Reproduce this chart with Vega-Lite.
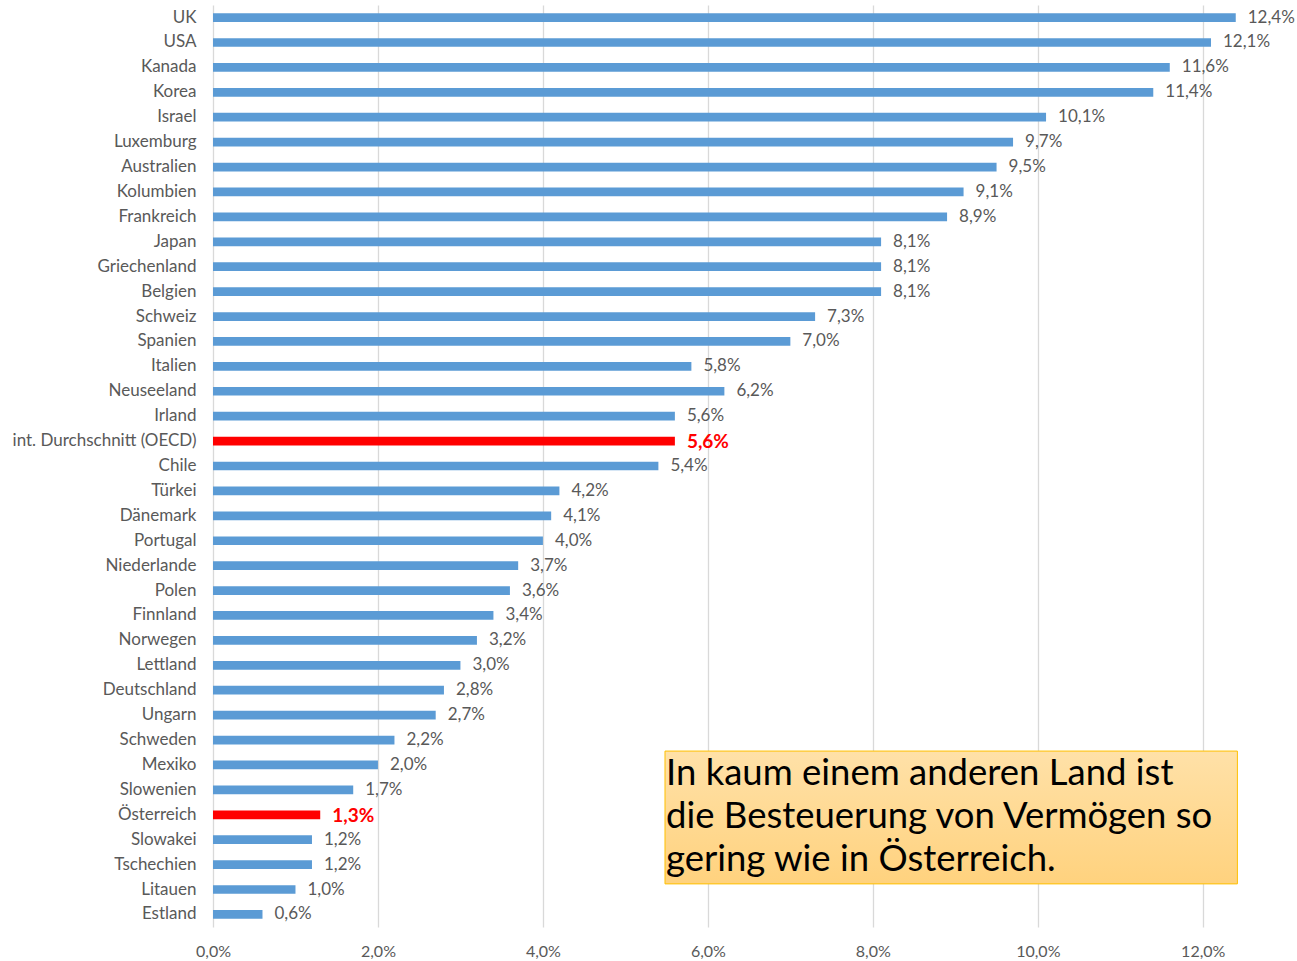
{
  "$schema": "https://vega.github.io/schema/vega-lite/v6.json",
  "autosize": "none",
  "width": 1031,
  "height": 922,
  "padding": {"left": 213, "top": 5, "right": 53, "bottom": 34},
  "background": "white",
  "config": {
    "view": {"stroke": null},
    "font": "Lato",
    "locale": {"number": {"decimal": ",", "thousands": ".", "grouping": [3], "currency": ["", " €"]}}
  },
  "resolve": {"scale": {"y": "independent"}},
  "layer": [
    {
      "data": {"name": "laender", "values": [
        {"land": "UK", "wert": 0.124},
        {"land": "USA", "wert": 0.121},
        {"land": "Kanada", "wert": 0.116},
        {"land": "Korea", "wert": 0.114},
        {"land": "Israel", "wert": 0.101},
        {"land": "Luxemburg", "wert": 0.097},
        {"land": "Australien", "wert": 0.095},
        {"land": "Kolumbien", "wert": 0.091},
        {"land": "Frankreich", "wert": 0.089},
        {"land": "Japan", "wert": 0.081},
        {"land": "Griechenland", "wert": 0.081},
        {"land": "Belgien", "wert": 0.081},
        {"land": "Schweiz", "wert": 0.073},
        {"land": "Spanien", "wert": 0.070},
        {"land": "Italien", "wert": 0.058},
        {"land": "Neuseeland", "wert": 0.062},
        {"land": "Irland", "wert": 0.056},
        {"land": "int. Durchschnitt (OECD)", "wert": 0.056},
        {"land": "Chile", "wert": 0.054},
        {"land": "Türkei", "wert": 0.042},
        {"land": "Dänemark", "wert": 0.041},
        {"land": "Portugal", "wert": 0.040},
        {"land": "Niederlande", "wert": 0.037},
        {"land": "Polen", "wert": 0.036},
        {"land": "Finnland", "wert": 0.034},
        {"land": "Norwegen", "wert": 0.032},
        {"land": "Lettland", "wert": 0.030},
        {"land": "Deutschland", "wert": 0.028},
        {"land": "Ungarn", "wert": 0.027},
        {"land": "Schweden", "wert": 0.022},
        {"land": "Mexiko", "wert": 0.020},
        {"land": "Slowenien", "wert": 0.017},
        {"land": "Österreich", "wert": 0.013},
        {"land": "Slowakei", "wert": 0.012},
        {"land": "Tschechien", "wert": 0.012},
        {"land": "Litauen", "wert": 0.010},
        {"land": "Estland", "wert": 0.006}
      ]},
      "encoding": {
        "y": {
          "field": "land", "type": "nominal", "sort": null,
          "scale": {"paddingInner": 0.65, "paddingOuter": 0.33},
          "axis": {"title": null, "domain": false, "ticks": false, "labelPadding": 17, "labelFontSize": 17, "labelColor": "#595959", "labelFont": "Lato", "labelLimit": 0, "grid": false}
        },
        "x": {
          "field": "wert", "type": "quantitative",
          "scale": {"domain": [0, 0.125], "nice": false},
          "axis": {"title": null, "format": ".1%", "values": [0, 0.02, 0.04, 0.06, 0.08, 0.1, 0.12], "domain": false, "ticks": false, "grid": true, "gridColor": "#D9D9D9", "gridWidth": 1.3, "labelFontSize": 16, "labelColor": "#595959", "labelPadding": 16, "labelFont": "Lato", "labelFlush": false, "labelOverlap": false}
        }
      },
      "layer": [
        {
          "mark": {"type": "bar"},
          "encoding": {
            "color": {"condition": {"test": "datum.land === 'Österreich' || datum.land === 'int. Durchschnitt (OECD)'", "value": "#FF0000"}, "value": "#5B9BD5"}
          }
        },
        {
          "transform": [{"filter": "datum.land !== 'Österreich' && datum.land !== 'int. Durchschnitt (OECD)'"}],
          "mark": {"type": "text", "align": "left", "baseline": "middle", "dx": 12, "fontSize": 17, "font": "Lato", "color": "#595959"},
          "encoding": {
            "text": {"field": "wert", "type": "quantitative", "format": ".1%"}
          }
        },
        {
          "transform": [{"filter": "datum.land === 'Österreich' || datum.land === 'int. Durchschnitt (OECD)'"}],
          "mark": {"type": "text", "align": "left", "baseline": "middle", "dx": 12, "dy": 1, "fontSize": 19, "font": "Lato", "fontWeight": "bold", "color": "#FF0000"},
          "encoding": {
            "text": {"field": "wert", "type": "quantitative", "format": ".1%"}
          }
        }
      ]
    },
    {
      "data": {"values": [{"x1": 0.0548, "x2": 0.1242, "y1": 29.94, "y2": 35.27, "ty": 30.12, "txt": "In kaum einem anderen Land ist\ndie Besteuerung von Vermögen so\ngering wie in Österreich."}]},
      "layer": [
        {
          "mark": {"type": "rect", "stroke": "#FFC000", "strokeWidth": 1,
            "fill": {"gradient": "linear", "x1": 0, "y1": 0, "x2": 0, "y2": 1, "stops": [{"offset": 0, "color": "#FFE1A8"}, {"offset": 1, "color": "#FFD27E"}]}},
          "encoding": {
            "x": {"field": "x1", "type": "quantitative"},
            "x2": {"field": "x2"},
            "y": {"field": "y1", "type": "quantitative", "scale": {"domain": [0, 37], "reverse": true, "nice": false, "zero": false}, "axis": null},
            "y2": {"field": "y2"}
          }
        },
        {
          "mark": {"type": "text", "align": "left", "baseline": "top", "fontSize": 36.5, "lineHeight": 43, "lineBreak": "\n", "color": "#000000", "font": "Lato", "dx": 1},
          "encoding": {
            "x": {"field": "x1", "type": "quantitative"},
            "y": {"field": "ty", "type": "quantitative", "scale": {"domain": [0, 37], "reverse": true, "nice": false, "zero": false}, "axis": null},
            "text": {"field": "txt"}
          }
        }
      ]
    }
  ]
}
